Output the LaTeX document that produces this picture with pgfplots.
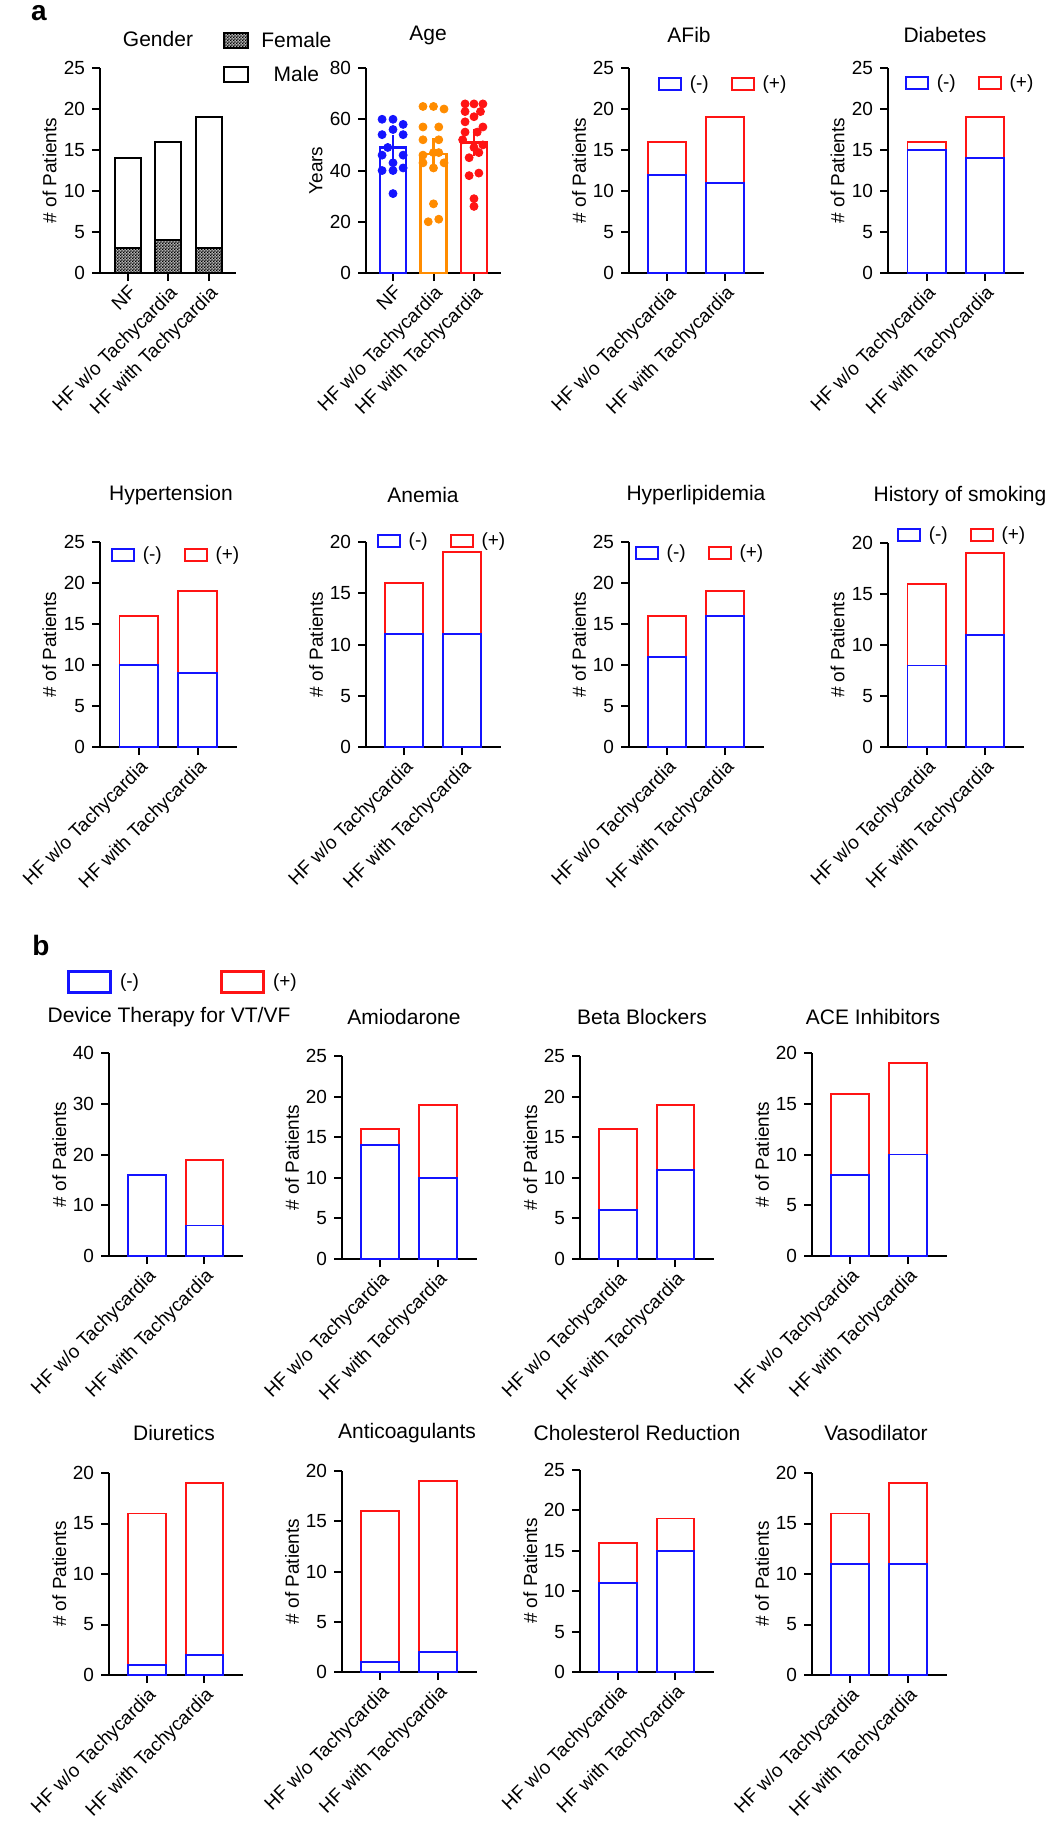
\documentclass[border=0pt]{standalone}
\usepackage{fontspec}
\setmainfont{Liberation Sans}
\usepackage{pgfplots}
\pgfplotsset{compat=1.18}
\usetikzlibrary{patterns.meta}
\definecolor{cblue}{RGB}{20,20,255}
\definecolor{corange}{RGB}{255,140,0}
\definecolor{cred}{RGB}{255,20,20}
\pgfdeclarepattern{
  name=finecheck, type=uncolored,
  bottom left={\pgfpoint{0pt}{0pt}}, top right={\pgfpoint{1.4pt}{1.4pt}},
  tile size={\pgfpoint{1.4pt}{1.4pt}},
  code={\pgfpathrectangle{\pgfpointorigin}{\pgfpoint{0.7pt}{0.7pt}}
        \pgfpathrectangle{\pgfpoint{0.7pt}{0.7pt}}{\pgfpoint{0.7pt}{0.7pt}}
        \pgfusepath{fill}}
}
\newcommand{\fs}{\fontsize{9.5}{11}\selectfont}
\newcommand{\fl}{\fontsize{9.5}{10}\selectfont}
\newcommand{\ft}{\fontsize{10.5}{12}\selectfont}
\pgfplotsset{
  panel/.style={
    scale only axis, anchor=south west,
    axis x line*=bottom, axis y line*=left,
    axis line style={line width=1pt},
    tick style={black, line width=1pt},
    major tick length=4pt, tick align=outside,
    tick label style={font=\fs},
    /pgf/number format/assume math mode=true,
    label style={font=\fs},
    ylabel={\# of Patients},
    ylabel style={at={(axis description cs:-0.37,0.5)}, anchor=center},
    ymin=0, clip=false,
    xticklabel style={rotate=45, anchor=north east, inner sep=1pt, font=\fs},
  },
  two/.style={panel, xtick={0,1}, xticklabels={HF w/o Tachycardia, HF with Tachycardia},
    xmin=-0.66, xmax=1.67,
    reverse legend, legend columns=2,
    legend style={draw=none, fill=none, inner sep=0pt, outer sep=0pt, anchor=west, font=\fl,
       nodes={inner xsep=0pt, inner ysep=0.5pt},
       /tikz/every odd column/.style={column sep=4pt},
       /tikz/every even column/.style={column sep=11pt}},
    legend image code/.code={\draw[##1, line width=0.9pt] (0pt,-3pt) rectangle (11pt,3pt);}},
  neg/.style={ybar, bar width=0.655, bar shift=0pt, draw=cblue, fill=white, line width=0.9pt},
  pos/.style={ybar, bar width=0.655, bar shift=0pt, draw=cred, fill=white, line width=0.9pt},
  agebar/.style={ybar, bar width=0.64, bar shift=0pt, fill=white, line width=1.3pt},
}
\begin{document}
\begin{tikzpicture}
\useasboundingbox (0,0) rectangle (525pt,-914pt);
\node[font=\fontsize{14}{16}\selectfont\bfseries] at (19.5pt,-6.5pt) {a};
\node[font=\fontsize{14}{16}\selectfont\bfseries] at (20.5pt,-472.5pt) {b};
% titles
\node[font=\ft] at (79pt,-19.5pt) {Gender};
\node[font=\ft] at (214pt,-17.5pt) {Age};
\node[font=\ft] at (344.5pt,-17.5pt) {AFib};
\node[font=\ft] at (472.5pt,-17.5pt) {Diabetes};
\node[font=\ft] at (85.5pt,-247.5pt) {Hypertension};
\node[font=\ft] at (211.5pt,-247.5pt) {Anemia};
\node[font=\ft] at (348pt,-247.5pt) {Hyperlipidemia};
\node[font=\ft] at (480pt,-248pt) {History of smoking};
\node[font=\ft] at (84.5pt,-508.5pt) {Device Therapy for VT/VF};
\node[font=\ft] at (202pt,-508.5pt) {Amiodarone};
\node[font=\ft] at (321pt,-508.5pt) {Beta Blockers};
\node[font=\ft] at (436.5pt,-508.5pt) {ACE Inhibitors};
\node[font=\ft] at (87pt,-716.5pt) {Diuretics};
\node[font=\ft] at (203.5pt,-716.5pt) {Anticoagulants};
\node[font=\ft] at (318.5pt,-716.5pt) {Cholesterol Reduction};
\node[font=\ft] at (438pt,-716.5pt) {Vasodilator};

% ---------- Gender
\begin{axis}[panel, at={(50pt,-136.5pt)}, width=68pt, height=102.5pt,
  xmin=-0.69, xmax=2.67, ymax=25, ytick={0,5,...,25},
  xtick={0,1,2}, xticklabels={NF,HF w/o Tachycardia,HF with Tachycardia},
  reverse legend,
  legend style={at={(0.904,1.178)}, anchor=north west, draw=none, fill=none, inner sep=0pt, font=\ft,
    nodes={inner xsep=0pt, inner ysep=0pt, text height=7.5pt, text depth=0pt}, row sep=8.5pt,
    /tikz/every odd column/.style={column sep=6pt}},
  legend image code/.code={\draw[#1] (0pt,-3.75pt) rectangle (12pt,3.75pt);}]
\addplot[ybar, bar width=0.64, bar shift=0pt, draw=black, fill=white, line width=1pt] coordinates {(0,14) (1,16) (2,19)};
\addlegendentry{Male}
\addplot[ybar, bar width=0.64, bar shift=0pt, draw=black, fill=black!30,
  postaction={pattern=finecheck, pattern color=black}, line width=1pt] coordinates {(0,3) (1,4) (2,3)};
\addlegendentry{Female}
\end{axis}

% ---------- Age
\begin{axis}[panel, at={(183pt,-136.5pt)}, width=67.5pt, height=102.5pt,
  xmin=-0.667, xmax=2.667, ymax=80, ytick={0,20,...,80},
  xtick={0,1,2}, xticklabels={NF,HF w/o Tachycardia,HF with Tachycardia}, ylabel={Years}]
\addplot[agebar, draw=cblue, error bars/.cd, y dir=both, y explicit,
  error bar style={line width=1.2pt, cblue}, error mark options={line width=1.2pt, cblue, mark size=3.25pt}]
  coordinates {(0,49) +- (0,2.4)};
\addplot[agebar, draw=corange, error bars/.cd, y dir=both, y explicit,
  error bar style={line width=1.2pt, corange}, error mark options={line width=1.2pt, corange, mark size=3.25pt}]
  coordinates {(1,46.5) +- (0,3.5)};
\addplot[agebar, draw=cred, error bars/.cd, y dir=both, y explicit,
  error bar style={line width=1.2pt, cred}, error mark options={line width=1.2pt, cred, mark size=3.25pt}]
  coordinates {(2,51) +- (0,2.7)};
\addplot[only marks, mark=*, mark size=2pt, cblue] coordinates {
 (-0.27,60) (0,60) (0.25,58) (0,56) (-0.27,54) (0.25,54) (-0.13,49) (-0.27,46) (0.25,46)
 (0,43) (-0.27,40) (0,40) (0.25,41) (0,31)};
\addplot[only marks, mark=*, mark size=2pt, corange] coordinates {
 (0.74,65) (1,65) (1.26,64) (0.74,57) (1.13,57) (0.74,52) (1.13,52) (1.13,47) (0.74,46) (1,47)
 (1.26,43) (0.74,43) (1,41) (1,27) (0.87,20) (1.13,21)};
\addplot[only marks, mark=*, mark size=2pt, cred] coordinates {
 (1.78,66) (2,66) (2.22,66) (1.78,63) (2.16,63) (2,61) (1.78,59) (2.22,57) (1.78,55) (2.08,55)
 (1.72,52) (2.22,50) (2,49) (2.12,47) (1.88,45) (2.12,39) (1.88,38) (2,29) (2,26)};
\end{axis}

% ---------- AFib
\begin{axis}[two, at={(314.5pt,-136.5pt)}, width=67.5pt, height=102.5pt,
  ymax=25, ytick={0,5,...,25}, legend style={at={(0.215,0.922)}}]
\addplot[pos] coordinates {(0,16) (1,19)}; \addlegendentry{(+)}
\addplot[neg] coordinates {(0,12) (1,11)}; \addlegendentry{(-)}
\end{axis}

% ---------- Diabetes
\begin{axis}[two, at={(444pt,-136.5pt)}, width=68pt, height=102.5pt,
  ymax=25, ytick={0,5,...,25}, legend style={at={(0.125,0.927)}}]
\addplot[pos] coordinates {(0,16) (1,19)}; \addlegendentry{(+)}
\addplot[neg] coordinates {(0,15) (1,14)}; \addlegendentry{(-)}
\end{axis}

% ---------- Hypertension
\begin{axis}[two, at={(50pt,-373.5pt)}, width=68.5pt, height=102.5pt,
  ymax=25, ytick={0,5,...,25}, legend style={at={(0.08,0.937)}}]
\addplot[pos] coordinates {(0,16) (1,19)}; \addlegendentry{(+)}
\addplot[neg] coordinates {(0,10) (1,9)}; \addlegendentry{(-)}
\end{axis}

% ---------- Anemia
\begin{axis}[two, at={(183pt,-373.5pt)}, width=67.5pt, height=102.5pt,
  ymax=20, ytick={0,5,...,20}, legend style={at={(0.081,1.005)}}]
\addplot[pos] coordinates {(0,16) (1,19)}; \addlegendentry{(+)}
\addplot[neg] coordinates {(0,11) (1,11)}; \addlegendentry{(-)}
\end{axis}

% ---------- Hyperlipidemia
\begin{axis}[two, at={(314.5pt,-373.5pt)}, width=67.5pt, height=102.5pt,
  ymax=25, ytick={0,5,...,25}, legend style={at={(0.044,0.946)}}]
\addplot[pos] coordinates {(0,16) (1,19)}; \addlegendentry{(+)}
\addplot[neg] coordinates {(0,11) (1,16)}; \addlegendentry{(-)}
\end{axis}

% ---------- Smoking
\begin{axis}[two, at={(444pt,-373.5pt)}, width=68pt, height=102pt,
  ymax=20, ytick={0,5,...,20}, legend style={at={(0.066,1.04)}}]
\addplot[pos] coordinates {(0,16) (1,19)}; \addlegendentry{(+)}
\addplot[neg] coordinates {(0,8) (1,11)}; \addlegendentry{(-)}
\end{axis}

% ---------- Device therapy (carries panel b legend)
\begin{axis}[two, at={(54.5pt,-628pt)}, width=67pt, height=101.5pt,
  ymax=40, ytick={0,10,...,40},
  legend style={at={(-0.313,1.35)}, /tikz/every even column/.style={column sep=40.5pt}},
  legend image code/.code={\draw[#1, line width=1.5pt] (0pt,-5.25pt) rectangle (21pt,5.25pt);}]
\addplot[pos] coordinates {(0,16) (1,19)}; \addlegendentry{(+)}
\addplot[neg] coordinates {(0,16) (1,6)}; \addlegendentry{(-)}
\end{axis}

% ---------- Amiodarone
\begin{axis}[two, at={(171pt,-629.5pt)}, width=67.5pt, height=101.5pt,
  ymax=25, ytick={0,5,...,25}]
\addplot[pos] coordinates {(0,16) (1,19)};
\addplot[neg] coordinates {(0,14) (1,10)};
\end{axis}

% ---------- Beta Blockers
\begin{axis}[two, at={(290pt,-629.5pt)}, width=67pt, height=101.5pt,
  ymax=25, ytick={0,5,...,25}]
\addplot[pos] coordinates {(0,16) (1,19)};
\addplot[neg] coordinates {(0,6) (1,11)};
\end{axis}

% ---------- ACE Inhibitors
\begin{axis}[two, at={(406pt,-628pt)}, width=67.5pt, height=101.5pt,
  ymax=20, ytick={0,5,...,20}]
\addplot[pos] coordinates {(0,16) (1,19)};
\addplot[neg] coordinates {(0,8) (1,10)};
\end{axis}

% ---------- Diuretics
\begin{axis}[two, at={(54.5pt,-837.5pt)}, width=67pt, height=101pt,
  ymax=20, ytick={0,5,...,20}]
\addplot[pos] coordinates {(0,16) (1,19)};
\addplot[neg] coordinates {(0,1) (1,2)};
\end{axis}

% ---------- Anticoagulants
\begin{axis}[two, at={(171pt,-836pt)}, width=67.5pt, height=100.5pt,
  ymax=20, ytick={0,5,...,20}]
\addplot[pos] coordinates {(0,16) (1,19)};
\addplot[neg] coordinates {(0,1) (1,2)};
\end{axis}

% ---------- Cholesterol Reduction
\begin{axis}[two, at={(290pt,-836pt)}, width=67pt, height=101pt,
  ymax=25, ytick={0,5,...,25}]
\addplot[pos] coordinates {(0,16) (1,19)};
\addplot[neg] coordinates {(0,11) (1,15)};
\end{axis}

% ---------- Vasodilator
\begin{axis}[two, at={(406pt,-837.5pt)}, width=67.5pt, height=101pt,
  ymax=20, ytick={0,5,...,20}]
\addplot[pos] coordinates {(0,16) (1,19)};
\addplot[neg] coordinates {(0,11) (1,11)};
\end{axis}
\end{tikzpicture}
\end{document}
